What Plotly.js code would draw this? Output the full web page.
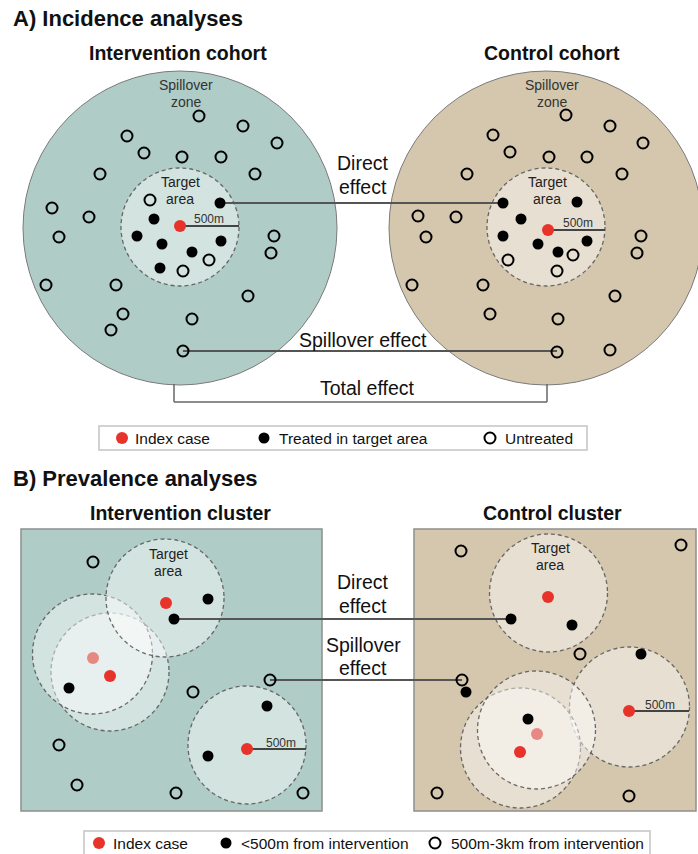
<!DOCTYPE html>
<html>
<head>
<meta charset="utf-8">
<script src="https://cdn.plot.ly/plotly-3.0.1.min.js"></script>
<style>html,body{margin:0;padding:0;background:#fff;}#chart{width:698px;height:854px;}</style>
</head>
<body>
<div id="chart"></div>
<script>
// ---------- DATA (diagram coordinates) ----------
// Panel A – intervention cohort
var aIntIndexX = [180];
var aIntIndexY = [226];
var aIntTreatedX = [220, 154, 137, 162, 192, 221, 160];
var aIntTreatedY = [203, 219, 236, 244, 252, 241, 268];
var aIntUntreatedX = [150, 209, 183, 199, 243, 277, 127, 144, 182, 221, 100, 255, 52, 89, 59, 274, 271, 46, 116, 248, 123, 111, 192, 183];
var aIntUntreatedY = [200, 260, 271, 116, 126, 143, 136, 153, 157, 157, 174, 174, 208, 217, 237, 236, 253, 285, 285, 296, 314, 330, 319, 351];
// Panel A – control cohort
var aCtlIndexX = [548];
var aCtlIndexY = [230];
var aCtlTreatedX = [503, 577, 521, 503, 538, 558, 587];
var aCtlTreatedY = [203, 202, 219, 236, 244, 252, 241];
var aCtlUntreatedX = [508, 573, 557, 566, 610, 643, 493, 510, 549, 587, 467, 622, 418, 456, 426, 641, 637, 412, 483, 615, 490, 558, 557, 610];
var aCtlUntreatedY = [260, 255, 271, 115, 126, 143, 135, 152, 157, 157, 174, 174, 216, 217, 237, 236, 253, 285, 285, 296, 314, 319, 352, 350];
// Panel B – intervention cluster
var bIntIndexX = [166, 110, 247];
var bIntIndexY = [603, 676, 749];
var bIntIndexFadedX = [93];
var bIntIndexFadedY = [658];
var bIntNearX = [208, 174, 69, 267, 208];
var bIntNearY = [599, 619, 688, 706, 756];
var bIntFarX = [93, 193, 270, 59, 77, 176, 303];
var bIntFarY = [562, 692, 680, 745, 785, 793, 793];
// Panel B – control cluster
var bCtlIndexX = [548, 629, 520];
var bCtlIndexY = [597, 711, 752];
var bCtlIndexFadedX = [537];
var bCtlIndexFadedY = [734];
var bCtlNearX = [511, 572, 641, 466, 528];
var bCtlNearY = [619, 625, 654, 692, 719];
var bCtlFarX = [461, 681, 580, 462, 437, 629];
var bCtlFarY = [551, 545, 654, 680, 793, 796];
// Legend labels
var legendALabels = ["Index case", "Treated in target area", "Untreated"];
var legendBLabels = ["Index case", "<500m from intervention", "500m-3km from intervention"];

// ---------- STYLES ----------
var FONT = "Liberation Sans, Arial, Helvetica, sans-serif";
var RED = "#e8332a", PINK = "#e88883", TEAL = "#b0ccc6", TAN = "#d4c7ad";
var ZONE_FILL = "rgba(255,255,255,0.45)";
var DASH = {color: "rgba(85,85,85,0.85)", width: 1.3, dash: "4px,3px"};

var traces = [];
function pts(x, y, kind, faded) {
  var m;
  if (kind === "index") m = {color: faded ? PINK : RED, size: 12, symbol: "circle", line: {width: 0}};
  else if (kind === "treated") m = {color: "#000", size: 11, symbol: "circle", line: {width: 0}};
  else m = {color: "#000", size: 11, symbol: "circle-open", line: {width: 2, color: "#000"}};
  traces.push({x: x, y: y, type: "scatter", mode: "markers", marker: m, hoverinfo: "skip", showlegend: false, cliponaxis: false});
}
pts(aIntTreatedX, aIntTreatedY, "treated");
pts(aIntUntreatedX, aIntUntreatedY, "open");
pts(aIntIndexX, aIntIndexY, "index");
pts(aCtlTreatedX, aCtlTreatedY, "treated");
pts(aCtlUntreatedX, aCtlUntreatedY, "open");
pts(aCtlIndexX, aCtlIndexY, "index");
pts(bIntIndexFadedX, bIntIndexFadedY, "index", true);
pts(bIntNearX, bIntNearY, "treated");
pts(bIntFarX, bIntFarY, "open");
pts(bIntIndexX, bIntIndexY, "index");
pts(bCtlIndexFadedX, bCtlIndexFadedY, "index", true);
pts(bCtlNearX, bCtlNearY, "treated");
pts(bCtlFarX, bCtlFarY, "open");
pts(bCtlIndexX, bCtlIndexY, "index");
// legend markers
pts([122], [438], "index"); pts([264], [438], "treated"); pts([490], [438], "open");
pts([99], [843], "index"); pts([226], [843], "treated"); pts([435], [843], "open");

var shapes = [];
function circ(cx, cy, r, fill, line) {
  shapes.push({type: "circle", xref: "x", yref: "y", x0: cx - r, x1: cx + r, y0: cy - r, y1: cy + r,
    fillcolor: fill, line: line, layer: "below"});
}
function seg(x0, y0, x1, y1, col, w) {
  shapes.push({type: "line", xref: "x", yref: "y", x0: x0, y0: y0, x1: x1, y1: y1, line: {color: col, width: w}, layer: "below"});
}
function box(x0, y0, x1, y1, fill, col, w) {
  shapes.push({type: "rect", xref: "x", yref: "y", x0: x0, y0: y0, x1: x1, y1: y1, fillcolor: fill, line: {color: col, width: w}, layer: "below"});
}
// Panel A
circ(180, 228, 157, TEAL, {color: "#7a7a7a", width: 1});
circ(546, 228, 157, TAN, {color: "#7a7a7a", width: 1});
circ(180, 227, 59, ZONE_FILL, DASH);
circ(546, 227, 59, ZONE_FILL, DASH);
seg(180, 226, 239, 226, "#444", 2);
seg(548, 230, 605, 230, "#444", 2);
seg(220, 203, 503, 203, "#555", 2);
seg(183, 351, 557, 351, "#555", 2);
seg(174, 384, 174, 402, "#666", 1.5);
seg(174, 402, 547, 402, "#666", 1.5);
seg(547, 402, 547, 384, "#666", 1.5);
box(99, 426, 587, 450, "#fff", "#c4c4c4", 1.5);
// Panel B
box(21, 529, 322, 811, TEAL, "#8f8f8f", 1.5);
box(414, 529, 696, 811, TAN, "#8f8f8f", 1.5);
circ(110, 672, 59, ZONE_FILL, DASH);
circ(92.5, 654, 60, ZONE_FILL, DASH);
circ(165, 598, 59, ZONE_FILL, DASH);
circ(247, 745, 59, ZONE_FILL, DASH);
circ(548.5, 593, 59, ZONE_FILL, DASH);
circ(629.5, 707, 60, ZONE_FILL, DASH);
circ(520.5, 748, 60, ZONE_FILL, DASH);
circ(536.5, 730, 59, ZONE_FILL, DASH);
seg(247, 749, 306, 749, "#444", 2);
seg(629, 711, 689, 711, "#444", 2);
seg(174, 619, 511, 619, "#555", 2);
seg(270, 680, 462, 680, "#555", 2);
box(84, 831, 650, 858, "#fff", "#c4c4c4", 1.5);

var ann = [];
function txt(x, y, t, size, opts) {
  opts = opts || {};
  ann.push({x: x, y: y, xref: "x", yref: "y", text: t, showarrow: false,
    xanchor: opts.anchor || "center", yanchor: "middle",
    font: {family: FONT, size: size, color: opts.color || "#111"}});
}
var H1 = 22, H2 = 19.5, BODY = 19.5, LEG = 15.5, ZONE = 14, SMALL = 12;
txt(11, 18, "<b>A) Incidence analyses</b>", H1, {anchor: "left"});
txt(178, 53, "<b>Intervention cohort</b>", H2);
txt(552, 53, "<b>Control cohort</b>", H2);
txt(186, 85, "Spillover", ZONE, {color: "#333"});
txt(186, 102, "zone", ZONE, {color: "#333"});
txt(552, 85, "Spillover", ZONE, {color: "#333"});
txt(552, 102, "zone", ZONE, {color: "#333"});
txt(180, 182, "Target", ZONE, {color: "#222"});
txt(180, 199, "area", ZONE, {color: "#222"});
txt(547, 182, "Target", ZONE, {color: "#222"});
txt(547, 199, "area", ZONE, {color: "#222"});
txt(209, 219, "500m", SMALL, {color: "#333"});
txt(578, 223, "500m", SMALL, {color: "#333"});
txt(363, 163, "Direct", BODY);
txt(363, 187, "effect", BODY);
txt(363, 340, "Spillover effect", BODY);
txt(367, 388, "Total effect", BODY);
txt(133, 438, legendALabels[0], LEG, {anchor: "left"});
txt(277, 438, legendALabels[1], LEG, {anchor: "left"});
txt(503, 438, legendALabels[2], LEG, {anchor: "left"});

txt(11, 478, "<b>B) Prevalence analyses</b>", H1, {anchor: "left"});
txt(180, 513, "<b>Intervention cluster</b>", H2);
txt(552, 513, "<b>Control cluster</b>", H2);
txt(168, 554, "Target", ZONE, {color: "#222"});
txt(168, 571, "area", ZONE, {color: "#222"});
txt(550, 548, "Target", ZONE, {color: "#222"});
txt(550, 565, "area", ZONE, {color: "#222"});
txt(281, 743, "500m", SMALL, {color: "#333"});
txt(660, 705, "500m", SMALL, {color: "#333"});
txt(363, 582, "Direct", BODY);
txt(363, 606, "effect", BODY);
txt(363, 645, "Spillover", BODY);
txt(363, 668, "effect", BODY);
txt(111, 843, legendBLabels[0], LEG, {anchor: "left"});
txt(239, 843, legendBLabels[1], LEG, {anchor: "left"});
txt(449, 843, legendBLabels[2], LEG, {anchor: "left"});

var layout = {
  width: 698, height: 854,
  margin: {l: 0, r: 0, t: 0, b: 0},
  paper_bgcolor: "#fff", plot_bgcolor: "#fff",
  xaxis: {range: [0, 698], visible: false, fixedrange: true},
  yaxis: {range: [854, 0], visible: false, fixedrange: true},
  shapes: shapes, annotations: ann, showlegend: false
};
Plotly.newPlot("chart", traces, layout, {staticPlot: true, displayModeBar: false});
</script>
</body>
</html>
